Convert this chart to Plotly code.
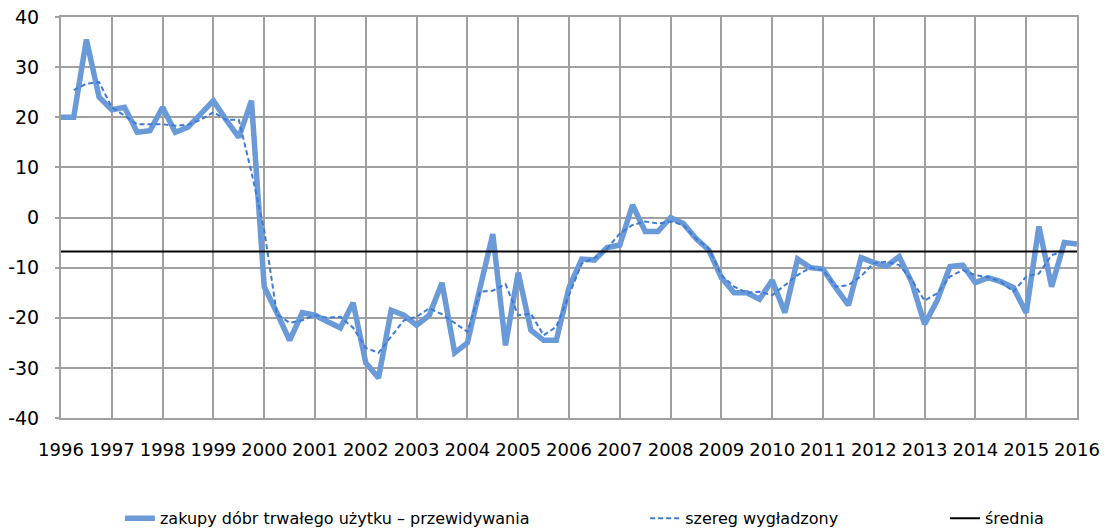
import plotly.graph_objects as go

# quarterly data, 1996 Q1 .. 2016 Q1
FIRST_YEAR = 1996
purchases = [
    20, 20, 35.5, 24,
    21.5, 22, 17, 17.3,
    22, 17, 18, 20.5,
    23.3, 19.5, 16, 23.3,
    -13.8, -19, -24.5, -19,
    -19.5, -20.8, -22, -17,
    -29, -32, -18.5, -19.5,
    -21.5, -19.5, -13, -27,
    -25, -14, -3.3, -25.5,
    -11, -22.5, -24.5, -24.5,
    -14, -8.3, -8.5, -6,
    -5.5, 2.5, -2.8, -2.8,
    0, -1.2, -4.2, -6.5,
    -12, -15, -15, -16.3,
    -12.5, -19, -8.3, -10,
    -10.3, -14, -17.5, -8,
    -9, -9.7, -7.8, -13,
    -21.3, -16.5, -9.8, -9.5,
    -13, -12, -12.8, -14,
    -19, -1.8, -13.8, -5,
    -5.3,
]

# smoothed series, 1996 Q2 .. 2015 Q4
smoothed = [
    25.4, 26.7, 27,
    22, 20.3, 18.6, 18.6,
    18.6, 18.3, 18.5, 19.5,
    21, 19.5, 19.5, 9,
    -2.5, -19.3, -21, -20.5,
    -19.5, -20, -19.8, -22,
    -26, -27, -23.8, -20.5,
    -19.8, -18.1, -19.3, -21,
    -22.8, -14.8, -14.6, -13.3,
    -19.5, -19.2, -23.5, -21.8,
    -15.5, -9.2, -8.1, -6.2,
    -3.2, -1.5, -0.8, -1.2,
    -0.8, -1.5, -4.2, -6.2,
    -11.5, -13.8, -15, -14.8,
    -15.5, -13.5, -11.5, -10,
    -10.5, -13.8, -13.5, -11.7,
    -9.1, -8.8, -9.5, -12.5,
    -16.6, -15.1, -11.8, -10.5,
    -11.5, -11.9, -12.8, -14.8,
    -11.8, -11.2, -7.5, -6.8,
]

mean_value = -6.8
year_ticks = list(range(1996, 2017))
y_ticks = [-40, -30, -20, -10, 0, 10, 20, 30, 40]

x_purchases = [FIRST_YEAR + i / 4 for i in range(len(purchases))]
x_smoothed = [FIRST_YEAR + 0.25 + i / 4 for i in range(len(smoothed))]

GRID = "#a0a0a0"
LEGEND_FONT = dict(family="DejaVu Sans", size=16, color="#000000")

fig = go.Figure()

fig.add_trace(go.Scatter(
    x=x_purchases, y=purchases,
    mode="lines",
    name="zakupy dóbr trwałego użytku – przewidywania",
    line=dict(color="#6a9ad8", width=5.5),
    legend="legend",
))

fig.add_trace(go.Scatter(
    x=x_smoothed, y=smoothed,
    mode="lines",
    name="szereg wygładzony",
    line=dict(color="#3f7bd4", width=2, dash="5px,3px"),
    legend="legend2",
))

fig.add_trace(go.Scatter(
    x=[year_ticks[0], year_ticks[-1]], y=[mean_value, mean_value],
    mode="lines",
    name="średnia",
    line=dict(color="#000000", width=2),
    legend="legend3",
))

legend_common = dict(orientation="h", yanchor="middle", y=-0.25,
                     xanchor="left", font=LEGEND_FONT,
                     bgcolor="rgba(0,0,0,0)")

fig.update_layout(
    width=1106,
    height=532,
    margin=dict(l=61, r=29, t=17, b=114, autoexpand=False),
    paper_bgcolor="white",
    plot_bgcolor="white",
    showlegend=True,
    legend=dict(x=0.058, **legend_common),
    legend2=dict(x=0.575, **legend_common),
    legend3=dict(x=0.87, **legend_common),
    xaxis=dict(
        range=[1996, 2016],
        tickmode="array",
        tickvals=year_ticks,
        ticktext=[str(y) for y in year_ticks],
        showgrid=True, gridcolor=GRID, gridwidth=2,
        showline=True, linecolor=GRID, linewidth=2, mirror=True,
        zeroline=False,
        ticks="",
        automargin=False,
        ticklabelstandoff=14,
        tickfont=dict(family="DejaVu Sans", size=18, color="#000000"),
    ),
    yaxis=dict(
        range=[-40, 40],
        tickmode="array",
        tickvals=y_ticks,
        ticktext=[str(v) for v in y_ticks],
        showgrid=True, gridcolor=GRID, gridwidth=2,
        showline=True, linecolor=GRID, linewidth=2, mirror=True,
        zeroline=False,
        automargin=False,
        ticks="outside", ticklen=4, tickcolor=GRID, tickwidth=2,
        ticklabelstandoff=12,
        tickfont=dict(family="DejaVu Sans", size=19, color="#000000"),
    ),
)

# drop the browser's default body margin so the figure fills the window
fig.write_html("out.html", config={"displayModeBar": False},
               post_script="document.body.style.margin = '0';")
